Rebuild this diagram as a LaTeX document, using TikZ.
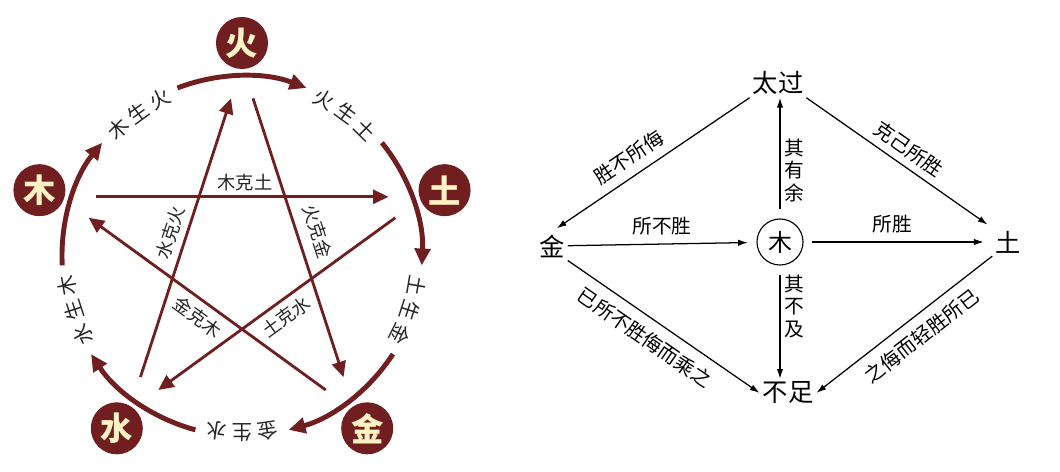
\documentclass[tikz,border=0pt]{standalone}
\usepackage{fontspec}
\setmainfont{Noto Sans CJK SC}
\usepackage{tikz}
\usetikzlibrary{arrows.meta,positioning}
\definecolor{maroon}{RGB}{112,30,32}
\definecolor{cream}{RGB}{255,243,196}
\definecolor{labgray}{RGB}{40,36,36}
\tikzset{
  elem/.style={circle, fill=maroon, text=cream, minimum size=1.3cm, inner sep=0pt, font=\fontsize{23}{23}\selectfont\bfseries},
  sheng/.style={maroon, line width=3.5pt, -{Triangle[length=12pt,width=11pt]}},
  ke/.style={maroon, line width=2pt, -{Triangle[length=11pt,width=10pt]}},
  shenglab/.style={text=labgray, inner sep=0pt, font=\fontsize{14.5}{14.5}\selectfont},
  kelab/.style={text=labgray, inner sep=4.5pt, font=\fontsize{13}{13}\selectfont},
  big/.style={inner sep=2pt, font=\fontsize{18}{18}\selectfont},
  centre/.style={circle, draw, thick, minimum size=1.15cm, inner sep=0pt, font=\fontsize{17}{17}\selectfont},
  yin/.style={line width=0.9pt, -{Latex[length=7pt,width=4.5pt]}},
  ylab/.style={inner sep=3pt, font=\fontsize{14}{16}\selectfont}
}

\begin{document}
\begin{tikzpicture}[x=0.025cm, y=0.025cm]
\useasboundingbox (0,0) rectangle (1060,472);

\begin{scope}[shift={(242,216)}]
  \foreach \ang/\nm/\txt in {90/huo/火, 18/tu/土, -54/jin/金, -126/shui/水, 162/mu/木}{
    \node[elem] (\nm) at (\ang:213) {\txt};
    \coordinate (\nm-out) at (\ang-4:158);
    \coordinate (\nm-in) at (\ang+4:158);
  }
  \foreach \m/\a/\b/\c in {126/木/生/火, 54/火/生/土, -18/土/生/金, -90/金/生/水, -162/水/生/木}{
    \draw[sheng] (\m-15:180) arc[start angle=\m-15, end angle=\m-57, radius=180];
    \node[shenglab, rotate=\m+8.3-90] (sh\m a) at (\m+8.3:177) {\a};
    \node[shenglab, rotate=\m-90] (sh\m b) at (\m:177) {\b};
    \node[shenglab, rotate=\m-8.3-90] (sh\m c) at (\m-8.3:177) {\c};
  }
  \draw[ke] (mu-out) -- (tu-in) node[pos=.51, above, kelab, inner sep=3pt] (mukt) {木克土};
  \draw[ke] (huo-out) -- (jin-in) node[pos=.5, sloped, above=3pt, kelab] (huokj) {火克金};
  \draw[ke] (tu-out) -- (shui-in) node[pos=.5, sloped, below, kelab] (tuks) {土克水};
  \draw[ke] (jin-out) -- (mu-in) node[pos=.5, sloped, below, kelab] (jinkm) {金克木};
  \draw[ke] (shui-out) -- (huo-in) node[pos=.5, sloped, above, kelab] (shuikh) {水克火};
\end{scope}

\node[big] (taiguo) at (778,389) {太过};
\node[centre] (mu2) at (780,230) {木};
\node[big] (jin2) at (552,226) {金};
\node[big] (tu2) at (1008,230) {土};
\node[big] (buzu) at (788,79) {不足};

\draw[yin, shorten >=6pt] (jin2) -- (mu2) node[midway, above=3pt, ylab] (suobusheng) {所不胜};
\draw[yin, shorten <=6pt, shorten >=6pt] (mu2) -- (tu2) node[pos=.47, above=3pt, ylab] (suosheng) {所胜};
\draw[yin, shorten <=7pt] (mu2.north) -- (mu2.north |- taiguo.south) node[pos=.4, right, ylab, align=center] (qiyouyu) {其\\有\\余};
\draw[yin, shorten <=7pt] (mu2.south) -- (mu2.south |- buzu.north) node[pos=.36, right, ylab, align=center] (qibuji) {其\\不\\及};
\draw[yin, shorten >=4pt] (taiguo.south west) -- (jin2.north) node[pos=.56, sloped, above=3pt, ylab] (shengbusuowu) {胜不所侮};
\draw[yin, shorten >=4pt] (taiguo.south east) -- (tu2.north west) node[pos=.5, sloped, above=2pt, ylab] (kejisuosheng) {克己所胜};
\draw[yin] (jin2.south east) -- (buzu.west) node[pos=.46, sloped, below=4pt, ylab] (yisuo) {已所不胜侮而乘之};
\draw[yin] (tu2.south west) -- (buzu.east) node[pos=.47, sloped, below=4pt, ylab] (zhiwu) {之侮而轻胜所已};
\end{tikzpicture}
\end{document}
